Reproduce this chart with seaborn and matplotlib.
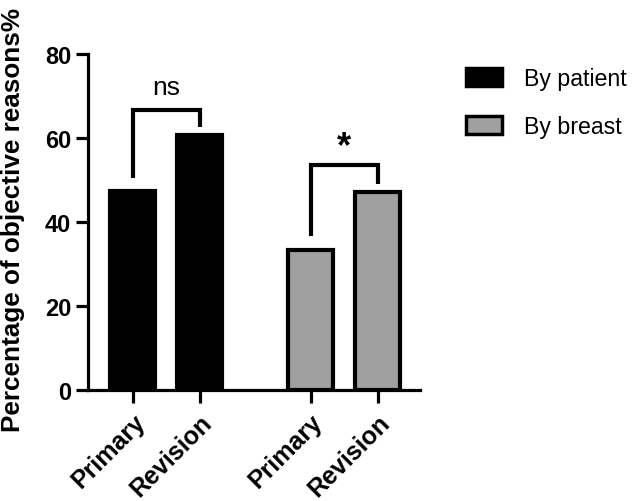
import numpy as np
import pandas as pd
import matplotlib
matplotlib.use("Agg")
import matplotlib.pyplot as plt
import seaborn as sns
from matplotlib.patches import Patch

# data
groups = ["By patient", "By breast"]
conditions = ["Primary", "Revision"]
patient_values = [47.4, 60.8]
breast_values = [33.3, 47.2]
y_ticks = [0, 20, 40, 60, 80]
sig_labels = ["ns", "*"]

sns.set_theme(style="ticks")
plt.rcParams["font.family"] = ["Liberation Sans", "DejaVu Sans"]
plt.rcParams["text.color"] = "black"
plt.rcParams["axes.labelcolor"] = "black"

# layout: second group is shifted right, leaving a gap
group_gap = 2.65
rows = []
for gi, (g, vals) in enumerate(zip(groups, [patient_values, breast_values])):
    for ci, (c, v) in enumerate(zip(conditions, vals)):
        rows.append({"group": g, "condition": c, "value": v, "pos": gi * group_gap + ci})
df = pd.DataFrame(rows)

fig = plt.figure(figsize=(6.42, 5.02), dpi=100)
ax = fig.add_axes([0.137, 0.221, 0.517, 0.669])

sns.barplot(data=df, x="pos", y="value", hue="group", native_scale=True,
            dodge=False, width=0.67, palette=["black", "#a0a0a0"],
            edgecolor="black", linewidth=3, ax=ax, legend=False, errorbar=None)

ax.set_xlim(-0.67, 4.28)
ax.set_ylim(0, 80)
ax.set_yticks(y_ticks)
ax.set_yticklabels([str(t) for t in y_ticks], fontsize=17, fontweight="bold", color="black")
ax.set_xticks(df["pos"])
ax.set_xticklabels(df["condition"], rotation=45, ha="right", rotation_mode="anchor",
                   fontsize=18, fontweight="bold", color="black")
ax.tick_params(axis="x", pad=5)
ax.set_xlabel("")
ax.set_ylabel("Percentage of objective reasons%", fontsize=18.8, fontweight="bold")
ax.yaxis.set_label_coords(-0.19, 0.51)

sns.despine(ax=ax)
for s in ["left", "bottom"]:
    ax.spines[s].set_linewidth(2.3)
    ax.spines[s].set_color("black")
ax.tick_params(axis="both", width=2.3, length=9, colors="black")
ax.tick_params(axis="y", pad=3)

# significance brackets
def bracket(x1, x2, y1, y2, top, label, dy, **kw):
    ax.plot([x1, x1, x2, x2], [y1, top, top, y2], color="black", lw=3,
            solid_joinstyle="miter", solid_capstyle="butt")
    ax.text((x1 + x2) / 2, top + dy, label, ha="center", va="center", **kw)

bracket(0, 1, 50.5, 62.6, 66.6, sig_labels[0], 5.5, fontsize=19)
bracket(group_gap, group_gap + 1, 36.7, 49.0, 53.5, sig_labels[1], 4.5, fontsize=26, fontweight="bold")

# legend
handles = [Patch(facecolor="black", edgecolor="black", linewidth=2.5),
           Patch(facecolor="#a0a0a0", edgecolor="black", linewidth=2.5)]
ax.legend(handles, groups, loc="upper left", bbox_to_anchor=(1.11, 0.99), frameon=False,
          fontsize=16.7, handlelength=1.55, handleheight=0.8, handletextpad=0.95,
          labelspacing=1.1, borderaxespad=0)

fig.savefig("out.png", dpi=100)
